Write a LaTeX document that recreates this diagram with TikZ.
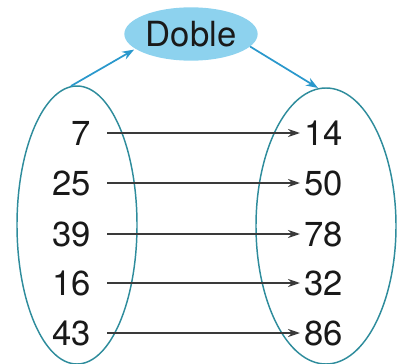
\documentclass[tikz,border=0pt]{standalone}
\usepackage{fontspec}
\setmainfont{TeX Gyre Heros}
\usetikzlibrary{arrows.meta,shapes.geometric}
\definecolor{ellblue}{HTML}{2E8C9C}
\definecolor{arrblue}{HTML}{2A98CC}
\definecolor{fillblue}{HTML}{8DD2EE}
\definecolor{numgray}{HTML}{3A3A3A}
\begin{document}
\begin{tikzpicture}[x=0.75pt,y=-0.75pt,
  num/.style={inner sep=0pt,text=black!90,font=\fontsize{26}{28}\selectfont},
  setell/.style={draw=ellblue,line width=1.1pt},
  maparrow/.style={draw=numgray,line width=1.3pt,-{Stealth[length=9pt,width=6pt]}},
  bluearrow/.style={draw=arrblue,line width=1.3pt,-{Stealth[length=9pt,width=6.5pt]}}]
\useasboundingbox (0,0) rectangle (400,364);
% sets
\draw[setell] (77,225) ellipse [x radius=60, y radius=139];
\draw[setell] (326,226) ellipse [x radius=70, y radius=138];
\coordinate (ltop) at (71,86);
\coordinate (rtop) at (318,88);
% function
\node[fill=fillblue,ellipse,inner sep=0pt,minimum width=100pt,minimum height=40pt,
      text=black!90,font=\fontsize{26}{28}\selectfont] (f) at (191,34) {Doble};
\draw[bluearrow,shorten >=1pt] (ltop) -- (f.-165);
\draw[bluearrow] (f.-12) -- (rtop);
% numbers
\foreach \a/\b/\y [count=\i] in {7/14/133,25/50/183,39/78/234,16/32/283,43/86/333}{
  \node[num,anchor=east] (l\i) at (91,\y) {\a};
  \node[num,anchor=west] (r\i) at (304,\y) {\b};
  \draw[maparrow] ([xshift=12pt]l\i.east) -- ([xshift=-3pt]r\i.west);
}
\end{tikzpicture}
\end{document}
